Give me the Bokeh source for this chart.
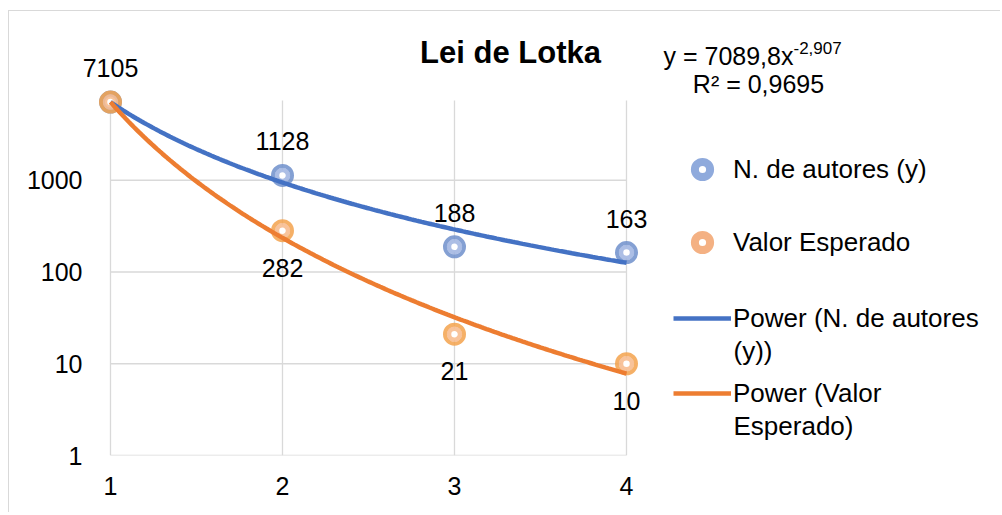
import numpy as np
from bokeh.plotting import figure
from bokeh.models import (Range1d, FixedTicker, Label, LabelSet, ColumnDataSource,
                          Legend, LegendItem)
from bokeh.core.properties import value
from bokeh.embed import file_html
from bokeh.resources import INLINE

# ---------------- data ----------------
x_vals = [1, 2, 3, 4]
autores = [7105, 1128, 188, 163]
esperado = [7105, 282, 21, 10]
x_ticks = [1, 2, 3, 4]
y_ticks = [1, 10, 100, 1000]
y_tick_labels = ["1", "10", "100", "1000"]
title_text = "Lei de Lotka"
eq_main = "y = 7089,8x"
eq_exp = "-2,907"
eq_r2 = "R² = 0,9695"
series_names = ["N. de autores (y)", "Valor Esperado"]
trend_lines_1 = ["Power (N. de autores", "(y))"]
trend_lines_2 = ["Power (Valor", "Esperado)"]

FONT = "Liberation Sans"
BLUE = "#4472c4"
ORANGE = "#ed7d31"
BLUE_OUT, BLUE_IN, BLUE_LEG = "#6f8fcb", "#9db3e1", "#8faadc"
OR_OUT, OR_IN, OR_LEG = "#f3a24c", "#f7b98a", "#f4b183"
GRID = "#d9d9d9"

# ---------------- layout (page pixels) ----------------
W, H = 1000, 512
FRAME_LEFT = 82                  # canvas frame edge (y labels sit just left of it)
DATA_LEFT, BOTTOM = 110, 455     # plot-area left edge / bottom edge
DATA_W = 516                     # width of the 1..4 data area
DATA_H = 355                     # height of the 1..Y_TOP data area
Y_TOP = 7400
PX_PER_X = DATA_W / (x_ticks[-1] - x_ticks[0])
x_start = x_ticks[0] - (DATA_LEFT - FRAME_LEFT) / PX_PER_X
x_end = x_ticks[0] + (W - DATA_LEFT) / PX_PER_X
y_end = 10 ** (np.log10(Y_TOP) * BOTTOM / DATA_H)

p = figure(width=W, height=H, y_axis_type="log",
           x_range=Range1d(x_start, x_end), y_range=Range1d(1, y_end),
           output_backend="svg", toolbar_location=None,
           min_border_left=FRAME_LEFT, min_border_right=0,
           min_border_top=0, min_border_bottom=H - BOTTOM,
           background_fill_color=None, border_fill_color=None,
           outline_line_color=None)
p.styles = {"box-shadow": "inset 8px 10px 0 0 #ffffff, inset 9px 11px 0 0 #d9d9d9"}

def sx(X):
    return X - FRAME_LEFT

def sy(Y):
    return BOTTOM - Y

# axes
p.xaxis.ticker = FixedTicker(ticks=x_ticks)
p.yaxis.ticker = FixedTicker(ticks=y_ticks)
p.yaxis.major_label_overrides = {t: l for t, l in zip(y_ticks, y_tick_labels)}
for ax in (p.xaxis, p.yaxis):
    ax.axis_line_color = None
    ax.major_tick_line_color = None
    ax.minor_tick_line_color = None
    ax.major_tick_out = 0
    ax.major_tick_in = 0
    ax.major_label_text_font = FONT
    ax.major_label_text_font_size = "25px"
    ax.major_label_text_color = "black"
p.xaxis.major_label_standoff = 21
p.yaxis.major_label_standoff = 0
p.xgrid.visible = False
p.ygrid.visible = False

# gridlines limited to the data area
p.segment(x0=x_ticks, y0=[1] * len(x_ticks), x1=x_ticks, y1=[Y_TOP] * len(x_ticks),
          line_color=GRID, line_width=1.3)
p.segment(x0=[x_ticks[0]] * len(y_ticks), y0=y_ticks, x1=[x_ticks[-1]] * len(y_ticks),
          y1=y_ticks, line_color=GRID, line_width=1.3)

# markers
def markers(y, outc, inc):
    p.scatter(x_vals, y, size=19, fill_color=None, line_color=outc, line_width=4, line_alpha=0.85)
    p.scatter(x_vals, y, size=11, fill_color="white", line_color=inc, line_width=4.5, line_alpha=0.85)

markers(autores, BLUE_OUT, BLUE_IN)
markers(esperado, OR_OUT, OR_IN)

# power trendlines fitted from the data
xs = np.linspace(1, 4, 200)
def power_fit(y):
    b, lna = np.polyfit(np.log(x_vals), np.log(y), 1)
    return np.exp(lna) * xs ** b

r_blue = p.line(xs, power_fit(autores), line_color=BLUE, line_width=4.5)
r_or = p.line(xs, power_fit(esperado), line_color=ORANGE, line_width=4.5)

# data labels
src_a = ColumnDataSource(dict(x=x_vals, y=autores, t=[str(v) for v in autores]))
src_e = ColumnDataSource(dict(x=x_vals[1:], y=esperado[1:], t=[str(v) for v in esperado[1:]]))
for src, off in ((src_a, 34), (src_e, -37)):
    p.add_layout(LabelSet(x="x", y="y", text="t", source=src, y_offset=off,
                          text_align="center", text_baseline="middle",
                          text_font=value(FONT), text_font_size=value("25px"),
                          text_color="black"))

# title and equation
def lab(text, X, Y, size="25px", align="left", style="normal"):
    p.add_layout(Label(x=sx(X), y=sy(Y), x_units="screen", y_units="screen", text=text,
                       text_font=FONT, text_font_size=size, text_align=align,
                       text_baseline="middle", text_font_style=style, text_color="black"))

lab(title_text, 510, 52, size="31px", align="center", style="bold")
lab(eq_main, 663, 55)
lab(eq_exp, 793, 47, size="17px")
lab(eq_r2, 758, 83, align="center")

# legend (proxy renderers carry the legend marker style only)
nan_src = dict(x=[np.nan], y=[np.nan])
leg_a = p.scatter(x="x", y="y", source=ColumnDataSource(nan_src), size=15,
                  fill_color="white", line_color=BLUE_LEG, line_width=8)
leg_e = p.scatter(x="x", y="y", source=ColumnDataSource(nan_src), size=15,
                  fill_color="white", line_color=OR_LEG, line_width=8)

ROW_H = 38
def make_legend(label, renderer, X, Yc):
    lg = Legend(items=[LegendItem(label=label, renderers=[renderer])],
                location=(sx(X), sy(Yc + ROW_H / 2)),
                glyph_width=58, glyph_height=ROW_H, label_standoff=2, padding=0, margin=0,
                spacing=0, border_line_color=None, background_fill_alpha=0,
                label_text_font=FONT, label_text_font_size="26px",
                label_text_color="black", label_height=20)
    p.add_layout(lg)

make_legend(series_names[0], leg_a, 673, 169)
make_legend(series_names[1], leg_e, 673, 242)
make_legend(trend_lines_1[0], r_blue, 673, 318)
make_legend(trend_lines_2[0], r_or, 673, 393)
lab(trend_lines_1[1], 733, 350, size="26px")
lab(trend_lines_2[1], 733, 425, size="26px")

open("out.html", "w").write(file_html(p, INLINE))
